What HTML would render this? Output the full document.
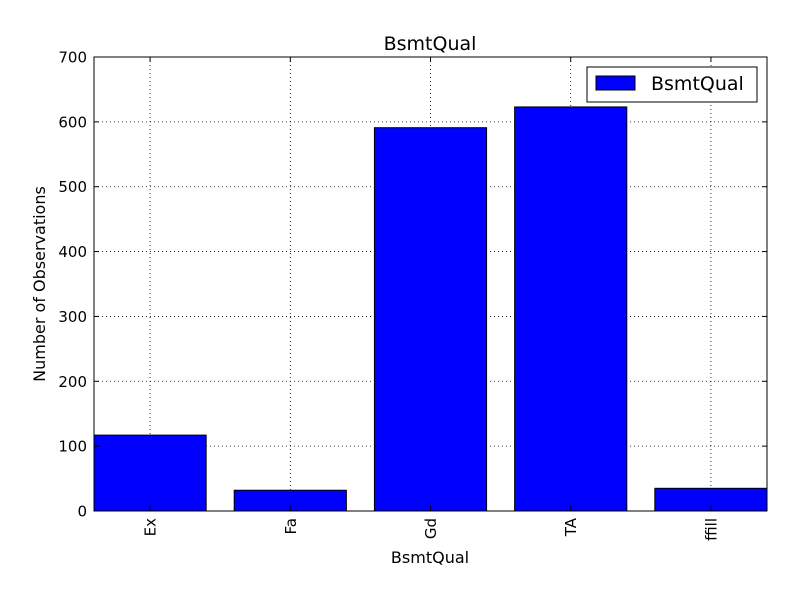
<!DOCTYPE html>
<html><head><meta charset="utf-8"><style>
body{margin:0;background:#fff;}
svg text{font-family:"DejaVu Sans","Liberation Sans",sans-serif;}
</style></head><body>
<svg id="chart" width="800" height="600" xmlns="http://www.w3.org/2000/svg">
<rect width="800" height="600" fill="#fff"/>
<g id="grid"></g><g id="bars"></g><g id="axes"></g>
</svg>
<script>
const categories=["Ex","Fa","Gd","TA","ffill"];
const values=[117,32,591,623,35];
const yTicks=[0,100,200,300,400,500,600,700];
const L=94,R=767,T=57,B=511;
const NS="http://www.w3.org/2000/svg";
const x=v=>L+(v/4.8)*(R-L);
const y=v=>B-(v/700)*(B-T);
function mk(tag,attrs,parent,text){const e=document.createElementNS(NS,tag);for(const k in attrs)e.setAttribute(k,attrs[k]);if(text!==undefined)e.textContent=text;document.getElementById(parent).appendChild(e);return e;}
yTicks.forEach(t=>{
 const g=mk('line',{x1:L,x2:R,y1:y(t),y2:y(t),stroke:'#000','stroke-dasharray':'1,3','stroke-width':0.8},'grid');
 
 
 const tl=mk('text',{x:L-7,y:y(t)+5.5,'text-anchor':'end','font-size':15},'axes',t);
 
 
 mk('line',{x1:L,x2:L+5,y1:y(t),y2:y(t),stroke:'#000'},'axes');
 mk('line',{x1:R,x2:R-5,y1:y(t),y2:y(t),stroke:'#000'},'axes');
});
categories.forEach((c,i)=>{
 const cx=x(i+0.4);
 const g=mk('line',{x1:cx,x2:cx,y1:T,y2:B,stroke:'#000','stroke-dasharray':'1,3','stroke-width':0.8},'grid');
 
 
 const b=mk('rect',{x:x(i),y:y(values[i]),width:x(i+0.8)-x(i),height:B-y(values[i]),fill:'#0000ff',stroke:'#000','stroke-width':1},'bars');
 
 
 mk('line',{x1:cx,x2:cx,y1:B,y2:B-5,stroke:'#000'},'axes');
 mk('line',{x1:cx,x2:cx,y1:T,y2:T+5,stroke:'#000'},'axes');
 const tl=mk('text',{x:cx+5.5,y:B+7,'text-anchor':'end','font-size':15,transform:`rotate(-90 ${cx+5.5} ${B+7})`},'axes',c);
 
 
});
const f=mk('rect',{x:L,y:T,width:R-L,height:B-T,fill:'none',stroke:'#000','stroke-width':1},'axes');


let e;
e=mk('text',{x:430,y:50,'text-anchor':'middle','font-size':19},'axes','BsmtQual');


e=mk('text',{x:430,y:563,'text-anchor':'middle','font-size':16},'axes','BsmtQual');


e=mk('text',{x:45,y:284,'text-anchor':'middle','font-size':16,transform:'rotate(-90 45 284)'},'axes','Number of Observations');


e=mk('rect',{x:587,y:67,width:170,height:35,fill:'#fff',stroke:'#000'},'axes');


e=mk('rect',{x:596,y:76,width:39,height:14,fill:'#0000ff',stroke:'#000'},'axes');


e=mk('text',{x:651,y:90,'font-size':19},'axes','BsmtQual');


</script>
</body></html>
